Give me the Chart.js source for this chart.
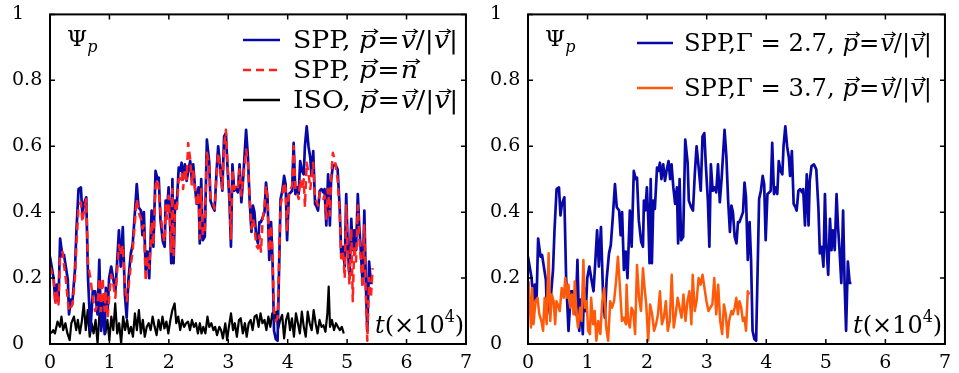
<!DOCTYPE html>
<html>
<head>
<meta charset="utf-8">
<title>Psi_p</title>
<script src="https://cdn.jsdelivr.net/npm/chart.js"></script>
<style>
  html, body { margin: 0; padding: 0; background: #fff; }
  #wrap { position: relative; width: 959px; height: 373px; overflow: hidden; }
  #left { position: absolute; left: 0; top: 0; }
  #right { position: absolute; left: 480px; top: 0; }
</style>
</head>
<body>
<div id="wrap">
  <canvas id="left" width="480" height="373"></canvas>
  <canvas id="right" width="479" height="373"></canvas>
</div>
<script>
"use strict";

// =================================== 数据 =================================== //
var aXTicks = [0, 1, 2, 3, 4, 5, 6, 7];
var aYTicks = [0, 0.2, 0.4, 0.6, 0.8, 1];

// SPP (Gamma = 2.7) 时间轴, 单位 10^4
var tSpp = [0, 0.06, 0.09, 0.115, 0.143, 0.17, 0.21, 0.236, 0.27, 0.30,
    0.32, 0.35, 0.38, 0.42, 0.445, 0.48, 0.52, 0.545, 0.57, 0.61,
    0.64, 0.68, 0.72, 0.76, 0.80, 0.83, 0.86, 0.885, 0.92, 0.94,
    0.97, 0.995, 1.03, 1.066, 1.10, 1.13, 1.16, 1.19, 1.225, 1.26,
    1.29, 1.32, 1.36, 1.39, 1.42, 1.46, 1.49, 1.53, 1.555, 1.58,
    1.61, 1.64, 1.67, 1.71, 1.74, 1.776, 1.81, 1.83, 1.86, 1.90,
    1.93, 1.946, 1.97, 1.996, 2.02, 2.04, 2.06, 2.08, 2.105, 2.13,
    2.166, 2.19, 2.215, 2.24, 2.27, 2.30, 2.325, 2.36, 2.386, 2.41,
    2.44, 2.47, 2.50, 2.52, 2.545, 2.57, 2.605, 2.64, 2.68, 2.70,
    2.74, 2.77, 2.80, 2.83, 2.86, 2.90, 2.93, 2.96, 2.985, 3.02,
    3.045, 3.07, 3.10, 3.13, 3.16, 3.19, 3.22, 3.25, 3.30, 3.33,
    3.36, 3.39, 3.415, 3.44, 3.47, 3.50, 3.525, 3.55, 3.58, 3.61,
    3.635, 3.66, 3.69, 3.72, 3.745, 3.77, 3.80, 3.83, 3.88, 3.91,
    3.94, 3.965, 3.99, 4.02, 4.05, 4.075, 4.10, 4.13, 4.16, 4.185,
    4.21, 4.24, 4.27, 4.29, 4.32, 4.35, 4.38, 4.40, 4.43, 4.46,
    4.49, 4.51, 4.54, 4.57, 4.60, 4.62, 4.65, 4.68, 4.71, 4.73,
    4.76, 4.80, 4.84, 4.875, 4.90, 4.93, 4.96, 4.985, 5.01, 5.04,
    5.07, 5.095, 5.12, 5.15, 5.18, 5.205, 5.23, 5.26, 5.29, 5.315,
    5.34, 5.37, 5.40, 5.43];
// SPP, p = v/|v|
var psiSppV = [0.265, 0.2, 0.13, 0.18, 0.13, 0.32, 0.265, 0.27, 0.23, 0.195,
    0.09, 0.135, 0.135, 0.225, 0.345, 0.47, 0.475, 0.39, 0.425, 0.445,
    0.2, 0.04, 0.16, 0.16, 0.09, 0.255, 0.04, 0.135, 0.03, 0.17,
    0.1, 0.2, 0.235, 0.195, 0.16, 0.25, 0.345, 0.235, 0.355, 0.15,
    0.08, 0.195, 0.275, 0.3, 0.375, 0.485, 0.415, 0.405, 0.33, 0.4,
    0.225, 0.28, 0.2, 0.405, 0.295, 0.525, 0.5, 0.505, 0.375, 0.31,
    0.295, 0.435, 0.405, 0.475, 0.375, 0.245, 0.5, 0.245, 0.435, 0.41,
    0.535, 0.525, 0.55, 0.5, 0.545, 0.495, 0.525, 0.555, 0.5, 0.545,
    0.475, 0.425, 0.475, 0.305, 0.5, 0.315, 0.325, 0.62, 0.55, 0.435,
    0.415, 0.405, 0.515, 0.6, 0.545, 0.465, 0.63, 0.64, 0.545, 0.435,
    0.295, 0.545, 0.465, 0.475, 0.46, 0.545, 0.43, 0.5, 0.65, 0.57,
    0.435, 0.34, 0.42, 0.4, 0.325, 0.305, 0.37, 0.37, 0.385, 0.4,
    0.49, 0.445, 0.255, 0.37, 0.255, 0.04, 0.015, 0.01, 0.44, 0.465,
    0.51, 0.485, 0.315, 0.455, 0.46, 0.465, 0.61, 0.455, 0.475, 0.455,
    0.555, 0.525, 0.515, 0.6, 0.66, 0.6, 0.565, 0.51, 0.585, 0.425,
    0.415, 0.405, 0.465, 0.47, 0.46, 0.47, 0.36, 0.515, 0.36, 0.495,
    0.54, 0.545, 0.53, 0.415, 0.275, 0.295, 0.235, 0.455, 0.295, 0.21,
    0.38, 0.285, 0.345, 0.285, 0.455, 0.355, 0.285, 0.185, 0.405, 0.185,
    0.04, 0.25, 0.185, 0.185];
// SPP, p = n
var psiSppN = [0.235, 0.2, 0.12, 0.16, 0.12, 0.27, 0.28, 0.24, 0.19, 0.13,
    0.1, 0.11, 0.12, 0.2, 0.3, 0.42, 0.43, 0.37, 0.4, 0.44,
    0.24, 0.2, 0.14, 0.1, 0.12, 0.2, 0.1, 0.2, 0.1, 0.16,
    0.08, 0.14, 0.21, 0.18, 0.14, 0.22, 0.3, 0.27, 0.3, 0.18,
    0.13, 0.17, 0.24, 0.28, 0.35, 0.44, 0.4, 0.38, 0.35, 0.36,
    0.19, 0.26, 0.23, 0.37, 0.3, 0.48, 0.5, 0.47, 0.4, 0.33,
    0.31, 0.42, 0.38, 0.45, 0.36, 0.28, 0.47, 0.27, 0.42, 0.4,
    0.5, 0.5, 0.52, 0.47, 0.53, 0.5, 0.61, 0.56, 0.48, 0.53,
    0.47, 0.42, 0.46, 0.32, 0.47, 0.33, 0.34, 0.58, 0.54, 0.44,
    0.43, 0.41, 0.5, 0.58, 0.54, 0.47, 0.6, 0.65, 0.55, 0.45,
    0.32, 0.53, 0.47, 0.48, 0.47, 0.53, 0.45, 0.5, 0.59, 0.55,
    0.44, 0.35, 0.38, 0.36, 0.3, 0.29, 0.33, 0.28, 0.38, 0.42,
    0.48, 0.44, 0.28, 0.36, 0.27, 0.1, 0.07, 0.08, 0.42, 0.45,
    0.49, 0.47, 0.34, 0.46, 0.47, 0.48, 0.6, 0.47, 0.46, 0.44,
    0.5, 0.47, 0.5, 0.416, 0.55, 0.52, 0.47, 0.5, 0.55, 0.44,
    0.43, 0.42, 0.46, 0.45, 0.44, 0.45, 0.38, 0.47, 0.39, 0.5,
    0.58, 0.55, 0.5, 0.4, 0.26, 0.28, 0.2, 0.42, 0.27, 0.18,
    0.35, 0.13, 0.3, 0.25, 0.42, 0.32, 0.26, 0.17, 0.36, 0.15,
    0.01, 0.2, 0.14, 0.23];

// ISO, p = v/|v|
var tIso = [0.017, 0.055, 0.083, 0.127, 0.166, 0.193, 0.221, 0.259, 0.293, 0.331,
    0.359, 0.403, 0.441, 0.469, 0.502, 0.535, 0.568, 0.602, 0.635, 0.668,
    0.701, 0.734, 0.767, 0.80, 0.833, 0.866, 0.90, 0.933, 0.966, 0.999,
    1.032, 1.065, 1.098, 1.131, 1.164, 1.197, 1.231, 1.264, 1.297, 1.33,
    1.363, 1.396, 1.429, 1.462, 1.496, 1.529, 1.562, 1.595, 1.628, 1.661,
    1.694, 1.727, 1.761, 1.794, 1.827, 1.86, 1.893, 1.926, 1.959, 1.992,
    2.026, 2.059, 2.097, 2.125, 2.158, 2.191, 2.224, 2.257, 2.29, 2.323,
    2.356, 2.389, 2.422, 2.456, 2.489, 2.522, 2.55, 2.58, 2.615, 2.65,
    2.68, 2.715, 2.75, 2.78, 2.81, 2.85, 2.88, 2.91, 2.95, 2.98,
    3.01, 3.046, 3.08, 3.11, 3.145, 3.18, 3.21, 3.245, 3.28, 3.31,
    3.344, 3.377, 3.41, 3.443, 3.476, 3.51, 3.543, 3.576, 3.61, 3.642,
    3.675, 3.708, 3.741, 3.774, 3.807, 3.84, 3.874, 3.907, 3.94, 3.973,
    4.006, 4.04, 4.072, 4.105, 4.139, 4.172, 4.205, 4.238, 4.271, 4.304,
    4.337, 4.37, 4.404, 4.437, 4.47, 4.503, 4.536, 4.57, 4.602, 4.635,
    4.668, 4.69, 4.712, 4.745, 4.779, 4.812, 4.845, 4.878, 4.911, 4.944];
var psiIso = [0.032, 0.042, 0.032, 0.068, 0.052, 0.083, 0.042, 0.063, 0.032, 0.012,
    0.063, 0.083, 0.042, 0.073, 0.032, 0.068, 0.123, 0.042, 0.103, 0.022,
    0.063, 0.032, 0.073, 0.002, 0.093, 0.052, 0.113, 0.032, 0.073, 0.012,
    0.083, 0.042, 0.123, 0.032, 0.063, 0.002, 0.083, 0.042, 0.073, 0.032,
    0.052, 0.022, 0.093, 0.042, 0.103, 0.032, 0.073, 0.022, 0.052, 0.063,
    0.042, 0.083, 0.052, 0.027, 0.073, 0.042, 0.083, 0.047, 0.068, 0.032,
    0.073, 0.103, 0.123, 0.063, 0.083, 0.042, 0.073, 0.052, 0.063, 0.068,
    0.042, 0.073, 0.052, 0.063, 0.032, 0.063, 0.032, 0.052, 0.032, 0.083,
    0.052, 0.063, 0.042, 0.052, 0.027, 0.052, 0.042, 0.017, 0.063, 0.012,
    0.052, 0.093, 0.042, 0.063, 0.022, 0.073, 0.078, 0.032, 0.063, 0.022,
    0.063, 0.073, 0.042, 0.083, 0.088, 0.052, 0.093, 0.063, 0.073, 0.042,
    0.083, 0.052, 0.093, 0.068, 0.098, 0.047, 0.073, 0.088, 0.017, 0.073,
    0.093, 0.042, 0.078, 0.022, 0.093, 0.063, 0.032, 0.098, 0.052, 0.022,
    0.098, 0.063, 0.042, 0.103, 0.063, 0.032, 0.073, 0.052, 0.057, 0.037,
    0.093, 0.174, 0.052, 0.073, 0.042, 0.063, 0.052, 0.042, 0.052, 0.032];

// SPP (Gamma = 3.7)
var tSpp37 = [0.01, 0.05, 0.07, 0.093, 0.126, 0.16, 0.19, 0.225, 0.253, 0.28,
    0.313, 0.346, 0.374, 0.40, 0.43, 0.456, 0.478, 0.50, 0.533, 0.566,
    0.60, 0.626, 0.654, 0.68, 0.709, 0.736, 0.764, 0.786, 0.813, 0.84,
    0.874, 0.90, 0.93, 0.956, 0.984, 1.01, 1.04, 1.06, 1.093, 1.12,
    1.148, 1.18, 1.214, 1.247, 1.28, 1.313, 1.346, 1.38, 1.412, 1.445,
    1.478, 1.51, 1.544, 1.577, 1.61, 1.643, 1.655, 1.68, 1.71, 1.737,
    1.765, 1.798, 1.83, 1.864, 1.897, 1.93, 1.957, 1.985, 2.018, 2.05,
    2.084, 2.116, 2.15, 2.182, 2.215, 2.248, 2.281, 2.314, 2.347, 2.38,
    2.413, 2.446, 2.48, 2.512, 2.545, 2.578, 2.61, 2.644, 2.677, 2.71,
    2.743, 2.765, 2.80, 2.83, 2.864, 2.897, 2.93, 2.963, 2.996, 3.03,
    3.06, 3.095, 3.127, 3.16, 3.193, 3.226, 3.26, 3.29, 3.32, 3.35,
    3.376, 3.415, 3.44, 3.47, 3.497, 3.525, 3.55, 3.58, 3.607, 3.635,
    3.66, 3.69, 3.717];
var psiSpp37 = [0.19, 0.05, 0.17, 0.06, 0.13, 0.14, 0.09, 0.07, 0.04, 0.14,
    0.06, 0.275, 0.07, 0.15, 0.13, 0.06, 0.13, 0.12, 0.1, 0.17,
    0.14, 0.2, 0.14, 0.18, 0.11, 0.15, 0.09, 0.19, 0.09, 0.05,
    0.11, 0.07, 0.255, 0.11, 0.13, 0.04, 0.03, 0.14, 0.06, 0.1,
    0.01, 0.07, 0.03, 0.13, 0.17, 0.05, 0.01, 0.13, 0.11, 0.13,
    0.19, 0.265, 0.17, 0.07, 0.08, 0.06, 0.18, 0.07, 0.05, 0.11,
    0.1, 0.03, 0.24, 0.14, 0.1, 0.23, 0.17, 0.12, 0.01, 0.12,
    0.09, 0.04, 0.06, 0.09, 0.16, 0.06, 0.08, 0.13, 0.04, 0.07,
    0.21, 0.05, 0.09, 0.14, 0.11, 0.08, 0.15, 0.07, 0.13, 0.16,
    0.06, 0.21, 0.1, 0.13, 0.2, 0.18, 0.21, 0.17, 0.13, 0.1,
    0.11, 0.12, 0.2, 0.09, 0.18, 0.07, 0.03, 0.12, 0.09, 0.02,
    0.07, 0.1, 0.09, 0.11, 0.14, 0.09, 0.13, 0.11, 0.07, 0.08,
    0.04, 0.16, 0.15];

// =================================== 样式 =================================== //
var sFont = '"DejaVu Serif", "Liberation Serif", serif';
var sBlue = "#0808a8";
var sRed = "#ff2020";
var sBlack = "#000000";
var sOrange = "#ff5a0a";

// 数组 -> {x, y}
function toPoints(aT, aY) {
    var aOut = [];
    for (var i = 0; i < aT.length; i++) {
        aOut.push({x: aT[i], y: aY[i]});
    }
    return aOut;
}

// 画向量箭头
function drawVec(ctx, x0, x1, y) {
    ctx.save();
    ctx.lineWidth = 1.1;
    ctx.strokeStyle = "#000";
    ctx.beginPath();
    ctx.moveTo(x0, y);
    ctx.lineTo(x1, y);
    ctx.moveTo(x1 - 3.5, y - 2.5);
    ctx.lineTo(x1, y);
    ctx.lineTo(x1 - 3.5, y + 2.5);
    ctx.stroke();
    ctx.restore();
}

// 混合字体文字 (正体 / 斜体 / 上下标 / 向量), bDraw=false 时只量宽度
function drawRich(ctx, x, y, aParts, iSize, bDraw) {
    var x0 = x;
    ctx.fillStyle = "#000";
    ctx.textAlign = "left";
    ctx.textBaseline = "alphabetic";
    for (var i = 0; i < aParts.length; i++) {
        var p = aParts[i];
        var size = (p.sub || p.sup) ? Math.round(iSize * 0.68) : iSize;
        ctx.font = (p.i ? "italic " : "") + size + "px " + sFont;
        var dy = p.sub ? iSize * 0.28 : (p.sup ? -iSize * 0.45 : 0);
        var w = ctx.measureText(p.t).width;
        if (bDraw !== false) {
            ctx.fillText(p.t, x, y + dy);
            if (p.v) {
                drawVec(ctx, x + w * 0.3, x + w + 1.5, y - iSize * 0.66);
            }
        }
        x += w + (p.g || 0);
    }
    return x - x0;
}

var aPVV = [{t: "p", i: 1, v: 1, g: 1}, {t: "=", g: 1}, {t: "v", i: 1, v: 1}, {t: "/|"}, {t: "v", i: 1, v: 1}, {t: "|"}];
var aPN = [{t: "p", i: 1, v: 1, g: 1}, {t: "=", g: 1}, {t: "n", i: 1, v: 1}];

// 边框, 内向刻度, 图例, 标注
function makePanelPlugin(oCfg) {
    return {
        id: "panel",
        afterDraw: function (chart) {
            var ctx = chart.ctx;
            var a = chart.chartArea;
            var sx = chart.scales.x;
            var sy = chart.scales.y;
            ctx.save();
            ctx.strokeStyle = "#000";
            ctx.lineWidth = 1.5;
            ctx.beginPath();
            aXTicks.forEach(function (v) {
                var px = sx.getPixelForValue(v);
                ctx.moveTo(px, a.bottom);
                ctx.lineTo(px, a.bottom - 5);
                ctx.moveTo(px, a.top);
                ctx.lineTo(px, a.top + 5);
            });
            aYTicks.forEach(function (v) {
                var py = sy.getPixelForValue(v);
                ctx.moveTo(a.left, py);
                ctx.lineTo(a.left + 5, py);
                ctx.moveTo(a.right, py);
                ctx.lineTo(a.right - 5, py);
            });
            ctx.stroke();
            ctx.lineWidth = 2;
            ctx.strokeRect(a.left, a.top, a.right - a.left, a.bottom - a.top);

            // Psi_p
            drawRich(ctx, a.left + 17, 46, [{t: "\u03A8"}, {t: "p", i: 1, sub: 1}], 23);
            // t(x10^4)
            drawRich(ctx, a.left + 325, 333, [{t: "t", i: 1}, {t: "(\u00D710"}, {t: "4", sup: 1}, {t: ")"}], 24);

            // 图例: 按第一行的目标宽度横向缩放
            var fK = oCfg.textW / drawRich(ctx, 0, 0, oCfg.legend[0].parts, oCfg.fontSize, false);
            oCfg.legend.forEach(function (o, k) {
                var ly = oCfg.legendY[k];
                ctx.save();
                ctx.strokeStyle = o.color;
                ctx.lineWidth = 2.5;
                ctx.setLineDash(o.dash || []);
                ctx.beginPath();
                ctx.moveTo(oCfg.lineX0, ly);
                ctx.lineTo(oCfg.lineX1, ly);
                ctx.stroke();
                ctx.restore();
                ctx.save();
                ctx.translate(oCfg.textX, 0);
                ctx.scale(fK, 1);
                drawRich(ctx, 0, ly + 8, o.parts, oCfg.fontSize);
                ctx.restore();
            });
            ctx.restore();
        }
    };
}

function makeOptions(iPadLeft) {
    return {
        responsive: false,
        animation: false,
        devicePixelRatio: 1,
        layout: {padding: {left: iPadLeft, right: 7, top: 14, bottom: 0}},
        plugins: {legend: {display: false}, tooltip: {enabled: false}},
        elements: {point: {radius: 0}, line: {tension: 0, borderJoinStyle: "round"}},
        scales: {
            x: {
                type: "linear", min: 0, max: 7,
                afterBuildTicks: function (scale) {
                    scale.ticks = aXTicks.map(function (v) { return {value: v}; });
                },
                afterFit: function (scale) { scale.height = 29; },
                grid: {display: false, drawTicks: false},
                border: {display: false},
                ticks: {
                    padding: 8, color: "#000", maxRotation: 0,
                    font: {family: sFont, size: 19},
                    callback: function (v) { return String(v); }
                }
            },
            y: {
                type: "linear", min: 0, max: 1,
                afterBuildTicks: function (scale) {
                    scale.ticks = aYTicks.map(function (v) { return {value: v}; });
                },
                afterFit: function (scale) { scale.width = 38; },
                grid: {display: false, drawTicks: false},
                border: {display: false},
                ticks: {
                    crossAlign: "far", color: "#000",
                    font: {family: sFont, size: 19},
                    callback: function (v) {
                        if (v === 0 || v === 1) { return String(v); }
                        return v.toFixed(1);
                    }
                }
            }
        }
    };
}

// =================================== 左图 =================================== //
new Chart(document.getElementById("left"), {
    type: "line",
    data: {
        datasets: [
            {label: "SPP v", data: toPoints(tSpp, psiSppV), borderColor: sBlue, borderWidth: 2.7, order: 1},
            {label: "SPP n", data: toPoints(tSpp, psiSppN), borderColor: sRed, borderWidth: 2.5, borderDash: [8, 5], order: 0},
            {label: "ISO v", data: toPoints(tIso, psiIso), borderColor: sBlack, borderWidth: 2.2, order: 2}
        ]
    },
    options: makeOptions(12),
    plugins: [makePanelPlugin({
        lineX0: 243, lineX1: 280, textX: 293, textW: 165, fontSize: 25,
        legendY: [40, 70, 100],
        legend: [
            {color: sBlue, parts: [{t: "SPP, "}].concat(aPVV)},
            {color: sRed, dash: [8, 5], parts: [{t: "SPP, "}].concat(aPN)},
            {color: sBlack, parts: [{t: "ISO, "}].concat(aPVV)}
        ]
    })]
});

// =================================== 右图 =================================== //
new Chart(document.getElementById("right"), {
    type: "line",
    data: {
        datasets: [
            {label: "SPP 2.7", data: toPoints(tSpp, psiSppV), borderColor: sBlue, borderWidth: 2.7, order: 1},
            {label: "SPP 3.7", data: toPoints(tSpp37, psiSpp37), borderColor: sOrange, borderWidth: 2.5, order: 0}
        ]
    },
    options: makeOptions(10),
    plugins: [makePanelPlugin({
        lineX0: 157, lineX1: 193, textX: 204, textW: 248, fontSize: 25,
        legendY: [43, 88],
        legend: [
            {color: sBlue, parts: [{t: "SPP,\u0393 = 2.7, "}].concat(aPVV)},
            {color: sOrange, parts: [{t: "SPP,\u0393 = 3.7, "}].concat(aPVV)}
        ]
    })]
});
</script>
</body>
</html>
